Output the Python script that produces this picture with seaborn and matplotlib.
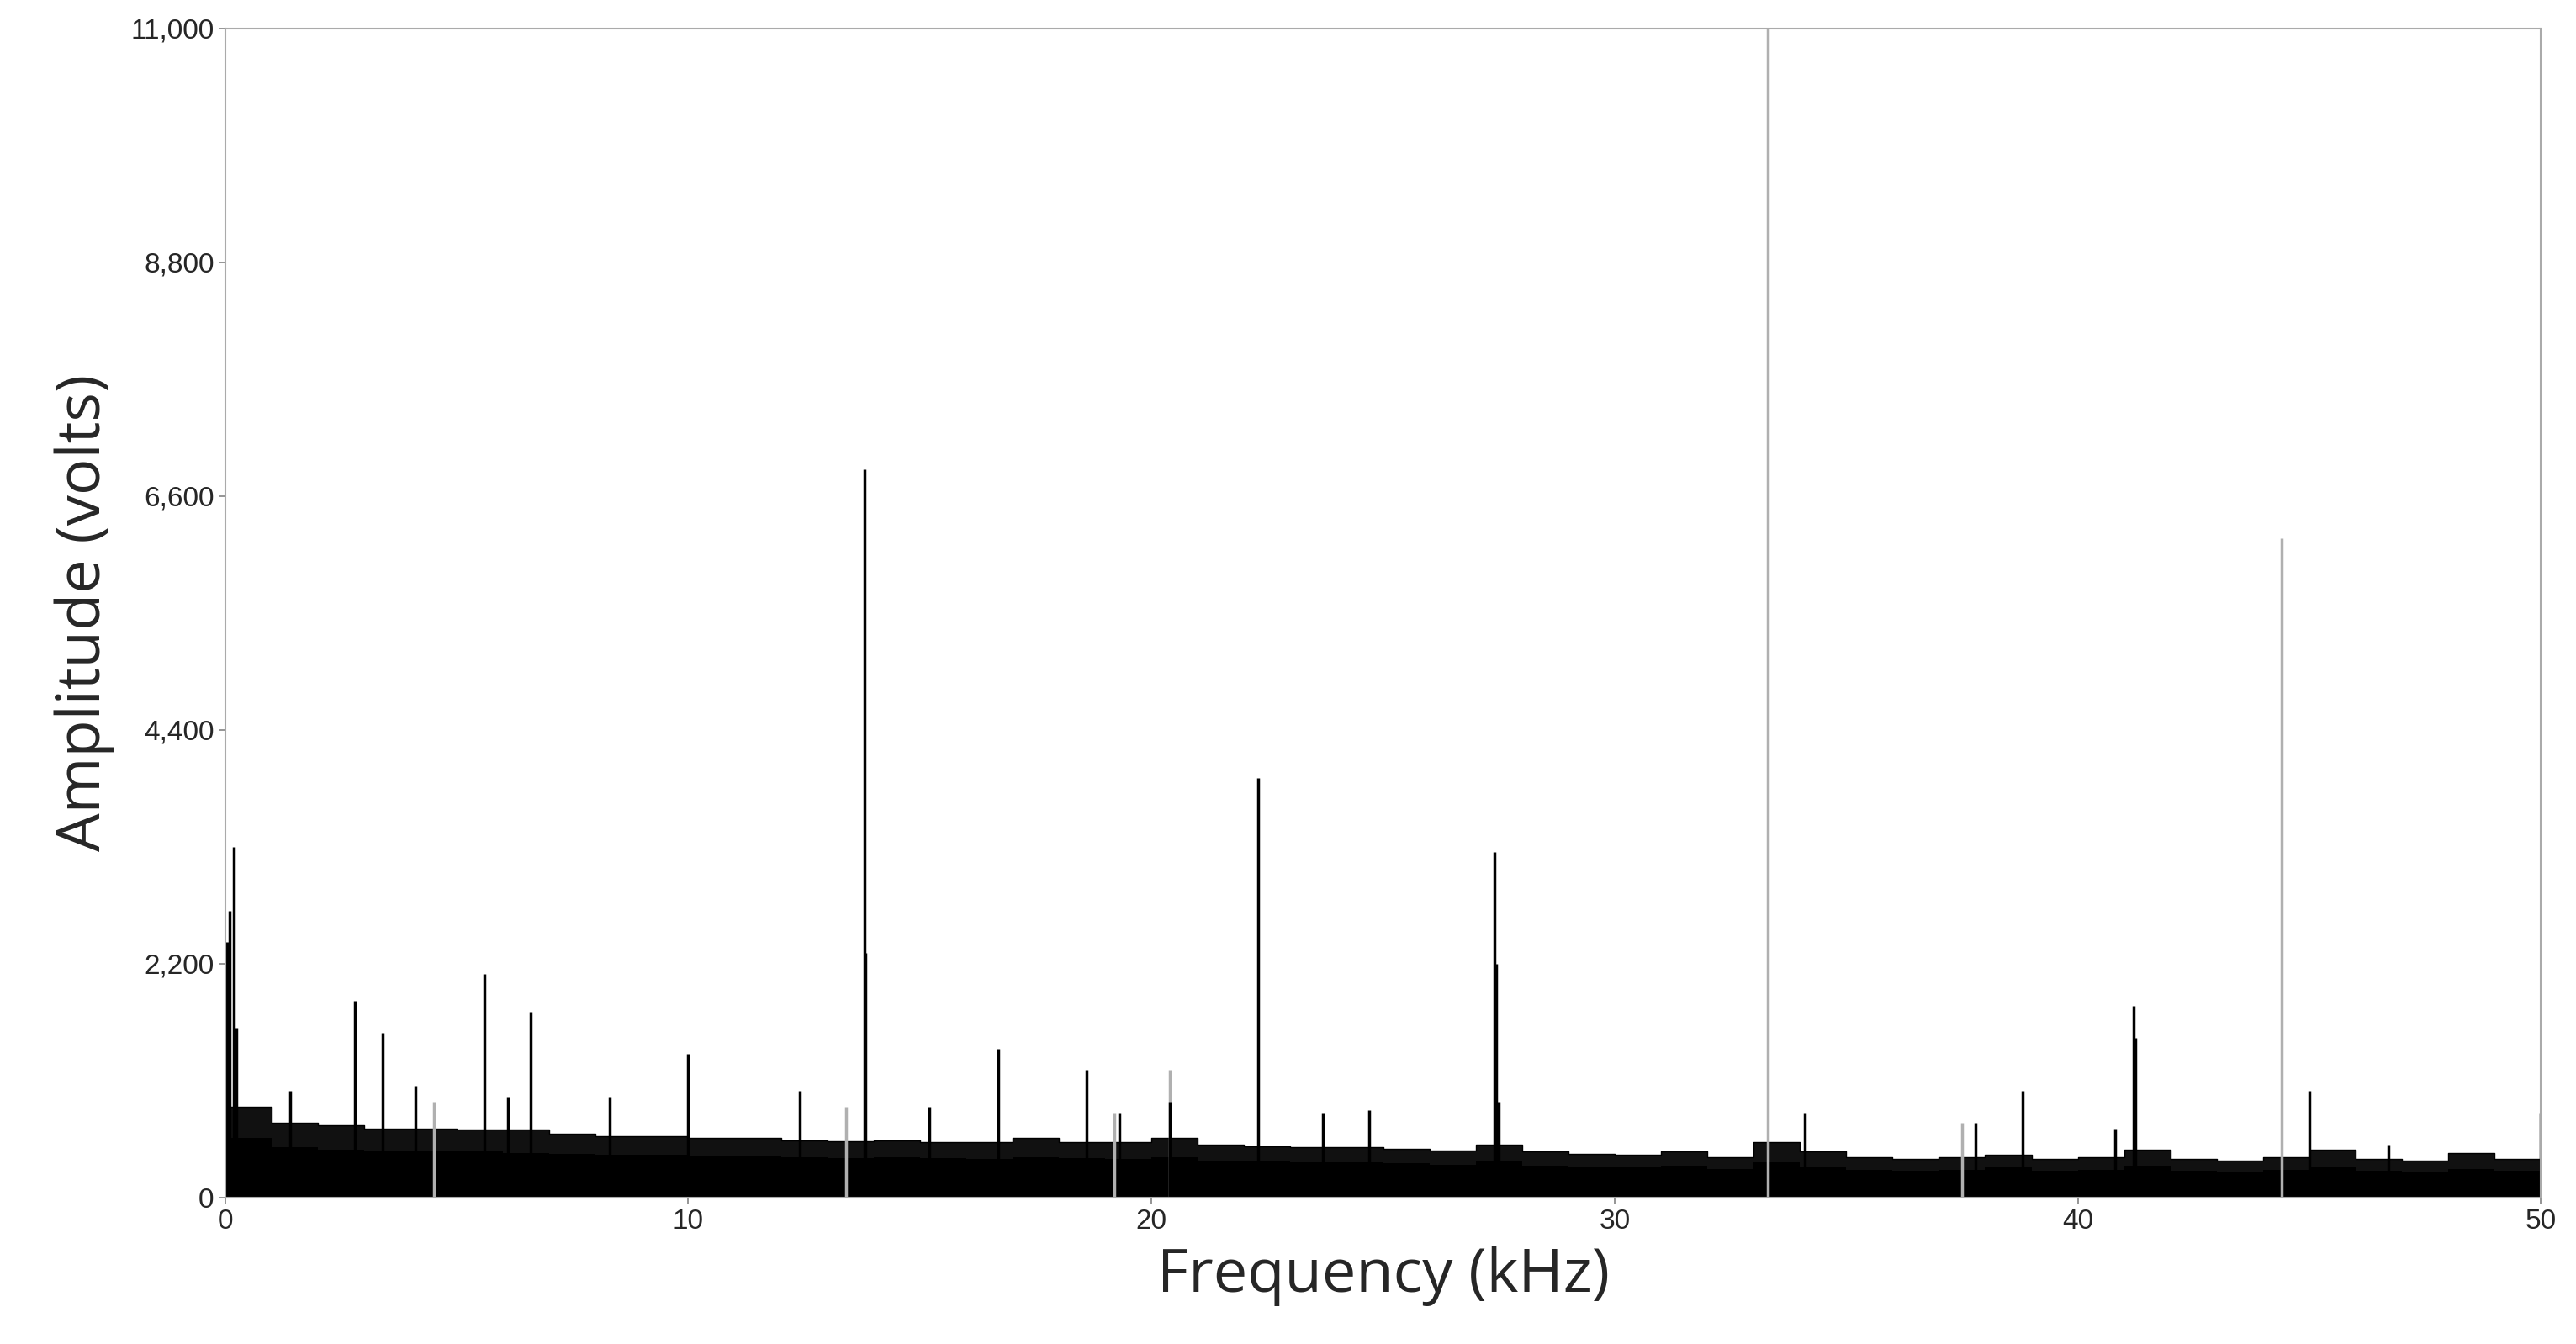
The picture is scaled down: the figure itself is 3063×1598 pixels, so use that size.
import numpy as np
import pandas as pd
import matplotlib.pyplot as plt
import seaborn as sns
from matplotlib.ticker import FuncFormatter

floor_khz = list(range(0, 51))
floor_lvl = [560, 470, 450, 440, 430, 430, 420, 410, 400, 400,
             390, 390, 380, 370, 380, 370, 360, 380, 370, 360,
             380, 350, 340, 330, 330, 320, 310, 340, 300, 290,
             280, 300, 270, 330, 290, 260, 250, 260, 280, 250,
             260, 300, 250, 240, 260, 290, 250, 240, 270, 250, 250]
# upper fuzz of the noise floor per band
fuzz_lvl = [850, 700, 680, 650, 650, 640, 640, 600, 580, 580,
            560, 560, 540, 530, 540, 520, 520, 560, 520, 520,
            560, 500, 480, 470, 470, 460, 440, 500, 430, 410,
            400, 430, 380, 520, 430, 380, 360, 380, 400, 360,
            380, 450, 360, 350, 380, 450, 360, 350, 420, 360, 360]

# spectral lines (kHz, volts)
peak_khz = [0.05, 0.1, 0.18, 0.25, 1.4, 2.8, 3.4, 4.1, 5.6, 6.1, 6.6, 8.3,
            10.0, 12.4, 13.8, 13.82, 15.2, 16.7, 18.6, 19.3, 20.4, 22.3,
            23.7, 24.7, 27.4, 27.45, 27.5, 34.1, 37.8, 38.8, 40.8, 41.2, 41.25,
            45.0, 46.7, 50.0]
peak_amp = [2400, 2700, 3300, 1600, 1000, 1850, 1550, 1050, 2100, 950, 1750, 950,
            1350, 1000, 6850, 2300, 850, 1400, 1200, 800, 900, 3950,
            800, 820, 3250, 2200, 900, 800, 700, 1000, 650, 1800, 1500,
            1000, 500, 800]
grey_khz = [20.4, 33.3, 44.4, 4.5, 13.4, 19.2, 37.5]
grey_amp = [1200, 11000, 6200, 900, 850, 800, 700]

sns.set_theme(style="white")
plt.rcParams['font.family'] = ['Liberation Sans', 'DejaVu Sans']

fig = plt.figure(figsize=(30.63, 15.98), dpi=100)
ax = fig.add_axes([0.0874, 0.109, 0.899, 0.870])

floor = pd.DataFrame({"khz": floor_khz, "lvl": floor_lvl, "fuzz": fuzz_lvl})
ax.fill_between(floor["khz"], 0, floor["fuzz"], step="post", color="#111111", lw=0)
ax.fill_between(floor["khz"], 0, floor["lvl"], step="post", color="black", lw=0)
sns.lineplot(data=floor, x="khz", y="fuzz", drawstyle="steps-post",
             color="black", lw=1, ax=ax)

ax.vlines(grey_khz, 0, grey_amp, color="#b0b0b0", lw=2.5)
ax.vlines(peak_khz, 0, peak_amp, color="black", lw=2.5)

ax.set_xlim(0, 50)
ax.set_ylim(0, 11000)
ax.set_xticks([0, 10, 20, 30, 40, 50])
ax.set_yticks([0, 2200, 4400, 6600, 8800, 11000])
ax.yaxis.set_major_formatter(FuncFormatter(lambda v, p: f"{int(v):,}"))
ax.tick_params(labelsize=24, length=6, color="#888888", direction="out",
               left=True, bottom=True)
for s in ax.spines.values():
    s.set_color("#aaaaaa")
    s.set_linewidth(1.5)

ax.set_xlabel("Frequency (kHz)", fontsize=52, family=['Open Sans', 'DejaVu Sans'], labelpad=10)
ax.set_ylabel("Amplitude (volts)", fontsize=52, family=['Open Sans', 'DejaVu Sans'], labelpad=14)

fig.savefig("out.png", dpi=100)
